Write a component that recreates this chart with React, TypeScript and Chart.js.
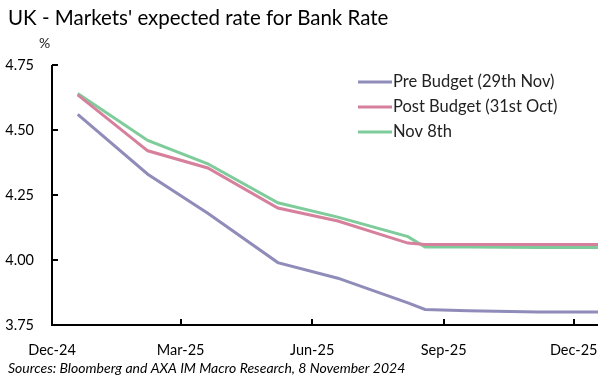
import React, { useEffect, useRef } from "react";
import { Chart, registerables } from "chart.js";

Chart.register(...registerables);

const title = "UK - Markets' expected rate for Bank Rate";
const unitLabel = "%";
const sourceText = "Sources: Bloomberg and AXA IM Macro Research, 8 November 2024";

const dates = [
  "2024-12-19",
  "2025-02-06",
  "2025-03-20",
  "2025-05-08",
  "2025-06-19",
  "2025-08-07",
  "2025-08-19",
  "2025-09-18",
  "2025-11-06",
  "2025-12-18",
];

const seriesNames = ["Pre Budget (29th Nov)", "Post Budget (31st Oct)", "Nov 8th"];
const preBudget = [4.56, 4.33, 4.18, 3.99, 3.93, 3.835, 3.81, 3.805, 3.8, 3.8];
const postBudget = [4.635, 4.42, 4.354, 4.2, 4.15, 4.065, 4.06, 4.06, 4.06, 4.06];
const nov8th = [4.64, 4.46, 4.37, 4.22, 4.165, 4.09, 4.05, 4.05, 4.048, 4.048];
const seriesColors = ["#8f8cba", "#d6809c", "#7fcc9b"];

const xTickDates = ["2024-12-01", "2025-03-01", "2025-06-01", "2025-09-01", "2025-12-01"];
const xTickLabels = ["Dec-24", "Mar-25", "Jun-25", "Sep-25", "Dec-25"];
const xMinDate = "2024-12-01";
const xMaxDate = "2025-12-18";

const yMin = 3.75;
const yMax = 4.75;
const yStep = 0.25;

const FONT = "Lato, 'Open Sans', sans-serif";

const dayNum = (s: string) => {
  const [y, m, d] = s.split("-").map(Number);
  return Date.UTC(y, m - 1, d) / 86400000;
};

const decorPlugin = {
  id: "decor",
  afterDraw(chart: any) {
    const ctx = chart.ctx as CanvasRenderingContext2D;
    const { left, right, top, bottom } = chart.chartArea;
    const xs = chart.scales.x;
    const ys = chart.scales.y;
    ctx.save();
    // axes
    ctx.strokeStyle = "#000";
    ctx.lineWidth = 2;
    ctx.beginPath();
    ctx.moveTo(left, top);
    ctx.lineTo(left, bottom);
    ctx.lineTo(right, bottom);
    ctx.stroke();
    // y ticks (inside)
    ys.ticks.forEach((t: any) => {
      const y = Math.round(ys.getPixelForValue(t.value));
      ctx.beginPath();
      ctx.moveTo(left, y);
      ctx.lineTo(left + 6, y);
      ctx.stroke();
    });
    // x ticks (inside)
    xs.ticks.forEach((t: any) => {
      const x = Math.round(xs.getPixelForValue(t.value));
      ctx.beginPath();
      ctx.moveTo(x, bottom);
      ctx.lineTo(x, bottom - 6);
      ctx.stroke();
    });
    // title
    ctx.fillStyle = "#000";
    ctx.textBaseline = "alphabetic";
    ctx.textAlign = "left";
    ctx.font = `20.5px ${FONT}`;
    ctx.fillText(title, 8, 25);
    // unit
    ctx.font = `14px ${FONT}`;
    ctx.fillStyle = "#222";
    ctx.fillText(unitLabel, 39, 48);
    // source
    ctx.font = `italic 14px ${FONT}`;
    ctx.fillStyle = "#000";
    ctx.fillText(sourceText, 8, 373);
    // legend
    ctx.font = `16.5px ${FONT}`;
    chart.data.datasets.forEach((ds: any, i: number) => {
      const y = 82 + i * 25;
      ctx.strokeStyle = ds.borderColor;
      ctx.lineWidth = 3;
      ctx.beginPath();
      ctx.moveTo(358, y);
      ctx.lineTo(392, y);
      ctx.stroke();
      ctx.fillStyle = "#222";
      ctx.textBaseline = "middle";
      ctx.fillText(ds.label, 393, y);
    });
    ctx.restore();
  },
};

export default function App() {
  const ref = useRef<HTMLCanvasElement | null>(null);
  useEffect(() => {
    if (!ref.current) return;
    const mk = (vals: number[]) => vals.map((v, i) => ({ x: dayNum(dates[i]), y: v }));
    const allSeries = [preBudget, postBudget, nov8th];
    const chart = new Chart(ref.current, {
      type: "line",
      data: {
        datasets: allSeries.map((vals, i) => ({
          label: seriesNames[i],
          data: mk(vals),
          borderColor: seriesColors[i],
          backgroundColor: seriesColors[i],
          borderWidth: 3,
          pointRadius: 0,
          tension: 0,
        })),
      },
      options: {
        responsive: false,
        animation: false,
        layout: { padding: { left: 0, right: 11, top: 65, bottom: 0 } },
        plugins: {
          legend: { display: false },
          tooltip: { enabled: false },
          title: { display: false },
        },
        scales: {
          x: {
            type: "linear",
            min: dayNum(xMinDate),
            max: dayNum(xMaxDate),
            grid: { display: false, drawTicks: false },
            border: { display: false },
            afterBuildTicks: (scale: any) => {
              scale.ticks = xTickDates.map((d) => ({ value: dayNum(d) }));
            },
            afterFit: (scale: any) => {
              scale.height = 54;
            },
            ticks: {
              padding: 17,
              color: "#000",
              font: { family: FONT, size: 14.5 },
              maxRotation: 0,
              autoSkip: false,
              callback: (v: any) => {
                const idx = xTickDates.findIndex((d) => dayNum(d) === v);
                return idx >= 0 ? xTickLabels[idx] : "";
              },
            },
          },
          y: {
            min: yMin,
            max: yMax,
            grid: { display: false, drawTicks: false },
            border: { display: false },
            afterFit: (scale: any) => {
              scale.width = 52;
            },
            ticks: {
              stepSize: yStep,
              padding: 18,
              color: "#000",
              font: { family: FONT, size: 14.5 },
              callback: (v: any) => Number(v).toFixed(2),
            },
          },
        },
      },
      plugins: [decorPlugin],
    });
    return () => chart.destroy();
  }, []);
  return (
    <div style={{ position: "absolute", left: 0, top: 0, width: 615, height: 379, background: "#fff" }}>
      <canvas ref={ref} width={615} height={379} />
    </div>
  );
}
